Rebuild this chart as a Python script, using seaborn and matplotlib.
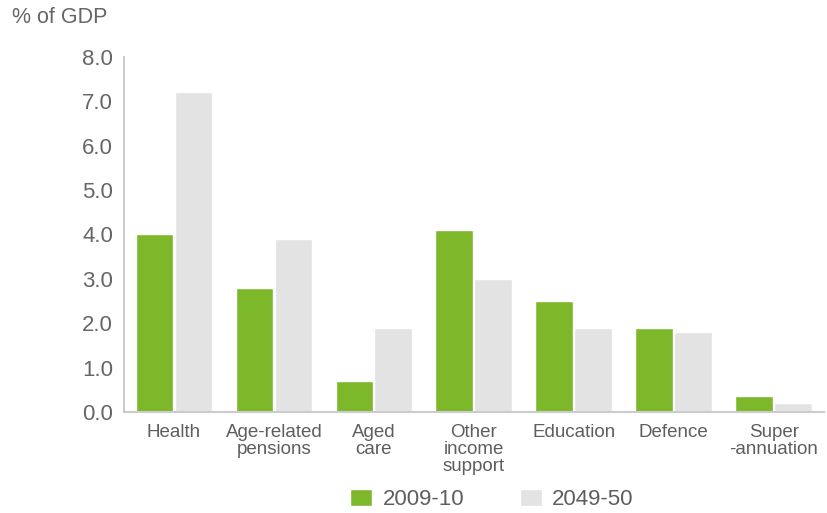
import matplotlib
matplotlib.use('Agg')
import matplotlib.pyplot as plt
import seaborn as sns
import pandas as pd

# data
categories = ['Health', 'Age-related\npensions', 'Aged\ncare', 'Other\nincome\nsupport',
              'Education', 'Defence', 'Super\n-annuation']
values_2009 = [4.0, 2.8, 0.7, 4.1, 2.5, 1.9, 0.35]
values_2049 = [7.2, 3.9, 1.9, 3.0, 1.9, 1.8, 0.2]
series = ['2009-10', '2049-50']
y_ticks = [0.0, 1.0, 2.0, 3.0, 4.0, 5.0, 6.0, 7.0, 8.0]

df = pd.DataFrame({
    'category': categories * 2,
    'value': values_2009 + values_2049,
    'period': [series[0]] * len(categories) + [series[1]] * len(categories),
})

sns.set_theme(style='white')
plt.rcParams['font.family'] = ['Liberation Sans', 'DejaVu Sans']

fig = plt.figure(figsize=(8.28, 5.13), dpi=100)
ax = fig.add_axes([0.1498, 0.197, 0.845, 0.692])

palette = {'2009-10': '#7db82b', '2049-50': '#e3e3e3'}
sns.barplot(data=df, x='category', y='value', hue='period', palette=palette,
            width=0.78, gap=0.03, saturation=1, ax=ax, legend=True)

ax.set_ylim(0, 8)
ax.set_xlim(-0.5, 6.5)
ax.set_yticks(y_ticks)
ax.set_yticklabels([f'{t:.1f}' for t in y_ticks], fontsize=16, color='#666666')
ax.set_xticks(range(len(categories)))
ax.set_xticklabels(categories, fontsize=13.5, color='#5e5e5e', linespacing=0.98, va='top')
ax.tick_params(axis='y', length=0, pad=8)
ax.tick_params(axis='x', length=0, pad=9)
ax.set_xlabel('')
ax.set_ylabel('')

for side in ['top', 'right']:
    ax.spines[side].set_visible(False)
for side in ['left', 'bottom']:
    ax.spines[side].set_color('#cccccc')
    ax.spines[side].set_linewidth(1.5)

handles, labels = ax.get_legend_handles_labels()
ax.get_legend().remove()
fig.legend(handles, labels, loc='center', bbox_to_anchor=(0.594, 0.027), ncol=2,
           frameon=False, fontsize=16, handlelength=1.0, handleheight=0.8,
           columnspacing=2.5, handletextpad=0.45, labelcolor='#5e5e5e')

fig.text(0.014, 0.965, '% of GDP', fontsize=15.5, color='#666666', va='center')

fig.savefig('out.png', dpi=100)
